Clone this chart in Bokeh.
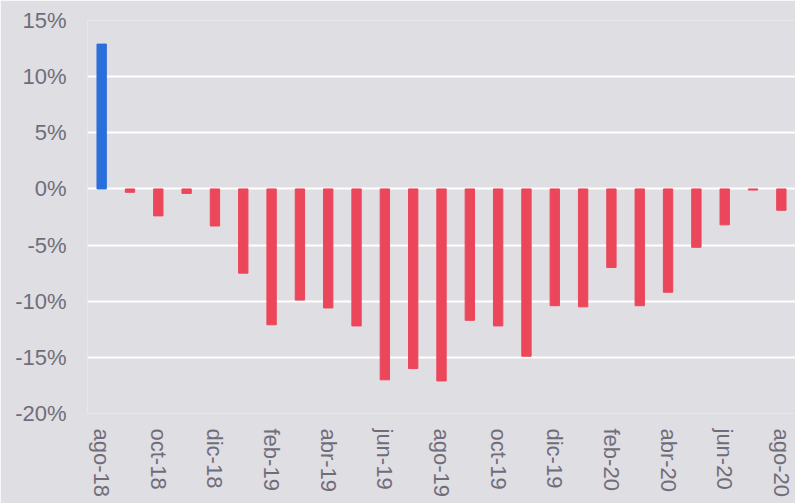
from bokeh.plotting import figure
from bokeh.models import Range1d, ColumnDataSource, FixedTicker
from bokeh.embed import file_html
from bokeh.resources import INLINE

months = ["ago-18", "sep-18", "oct-18", "nov-18", "dic-18", "ene-19", "feb-19", "mar-19",
          "abr-19", "may-19", "jun-19", "jul-19", "ago-19", "sep-19", "oct-19", "nov-19",
          "dic-19", "ene-20", "feb-20", "mar-20", "abr-20", "may-20", "jun-20", "jul-20", "ago-20"]
values = [12.9, -0.3, -2.4, -0.4, -3.3, -7.5, -12.1, -9.9, -10.6, -12.2, -17.0, -16.0, -17.1,
          -11.7, -12.2, -14.9, -10.4, -10.5, -7.0, -10.4, -9.2, -5.2, -3.2, -0.1, -1.9]
y_ticks = [-20, -15, -10, -5, 0, 5, 10, 15]

BG = "#dfdee2"
BLUE = "#2a6fdb"
RED = "#ec465b"
TXT = "#706d7b"

idx = list(range(len(months)))
colors = [BLUE if v > 0 else RED for v in values]
src = ColumnDataSource(dict(x=idx, top=values, color=colors, month=months))

p = figure(frame_width=708, frame_height=393,
           x_range=Range1d(-0.5, len(months) - 0.5), y_range=Range1d(-20, 15),
           output_backend="svg", toolbar_location=None,
           min_border_left=87, min_border_top=20, min_border_right=0, min_border_bottom=90)
p.background_fill_color = BG
p.border_fill_color = BG
p.outline_line_color = None

p.vbar(x="x", top="top", bottom=0, width=0.33, color="color", source=src)

p.xgrid.grid_line_color = None
p.ygrid.grid_line_color = "white"
p.ygrid.grid_line_width = 2
p.yaxis.ticker = FixedTicker(ticks=y_ticks)
p.yaxis.major_label_overrides = {t: f"{t}%" for t in y_ticks}

even = [i for i in idx if i % 2 == 0]
p.xaxis.ticker = FixedTicker(ticks=even)
p.xaxis.major_label_overrides = {i: months[i] for i in even}

for ax in (p.xaxis[0], p.yaxis[0]):
    ax.axis_line_color = None
    ax.major_tick_line_color = None
    ax.minor_tick_line_color = None
    ax.major_tick_out = 0
    ax.major_tick_in = 0
    ax.major_label_text_color = TXT
    ax.major_label_text_font = "Liberation Sans"
    ax.major_label_text_font_size = "22px"

p.yaxis.major_label_standoff = 21
p.xaxis.major_label_standoff = 15
p.xaxis.major_label_orientation = "vertical"

open("out.html", "w").write(file_html(p, INLINE))
